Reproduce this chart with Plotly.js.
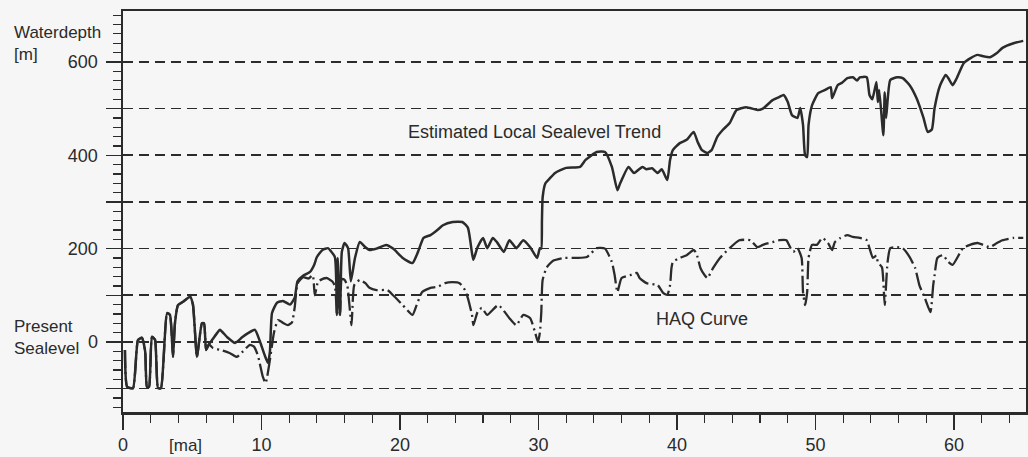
<!DOCTYPE html>
<html>
<head>
<meta charset="utf-8">
<script src="https://cdn.plot.ly/plotly-3.0.1.min.js"></script>
<style>
html,body{margin:0;padding:0;background:#f6f6f6;}
#chart{width:1028px;height:457px;}
</style>
</head>
<body>
<div id="chart"></div>
<script>
// Estimated Local Sealevel Trend (solid line): age [ma] and water depth [m]
const trendAge = [0.14,0.3,0.72,1.08,1.37,1.6,1.73,1.88,2.09,2.31,2.53,2.74,3.18,3.39,3.61,3.75,3.97,4.33,4.84,5.05,5.34,5.7,5.85,6.0,6.2,6.43,6.79,7.0,
  7.5,8.09,8.6,9.03,9.53,9.9,10.25,10.47,10.61,10.76,11.12,11.55,12.06,12.4,12.6,13.0,13.5,13.8,14.0,14.4,14.8,15.0,15.3,15.45,15.5,15.67,15.8,16.0,16.25,16.45,16.75,17.1,
  17.5,17.8,18.3,19.0,19.5,20.2,20.9,21.3,21.7,22.2,22.7,23.1,23.8,24.5,24.9,25.2,25.3,25.6,26.0,26.3,26.7,27.0,27.5,27.9,28.4,28.9,29.4,29.9,30.1,30.2,30.25,30.3,30.5,30.8,
  31.2,32.0,33.0,33.4,34.2,34.8,35.3,35.7,35.9,36.5,36.9,37.5,37.8,38.2,38.6,38.9,39.3,39.5,39.7,40.2,40.7,41.2,41.5,41.8,42.2,42.5,42.9,43.3,43.8,44.3,45.0,45.8,46.2,46.9,
  47.4,47.7,48.0,48.3,48.7,48.9,49.1,49.25,49.4,49.5,49.75,50.2,50.7,51.1,51.2,51.6,51.9,52.3,52.7,53.0,53.2,53.7,53.9,54.1,54.4,54.5,54.6,54.9,55.0,55.1,55.4,55.9,56.3,
  56.8,57.3,57.8,58.1,58.4,58.6,59.0,59.4,59.6,59.9,60.2,60.7,61.2,61.7,62.1,62.6,63.1,63.5,64.3,65.0];
const trendDepth = [-17,-96,-99,4,9,-20,-96,-96,11,5,-99,-99,62,58,-32,40,79,86,97,80,-32,40,40,-17,-5,4,19,26,
  11,-2,10,19,26,0,-30,-45,-20,62,84,88,80,95,130,142,150,165,182,197,201,195,182,58,180,58,193,212,201,130,180,214,
  203,197,200,208,200,180,169,193,223,229,240,250,257,257,245,190,176,203,223,201,223,214,193,218,201,218,203,180,201,200,260,310,340,350,
  362,373,375,390,407,407,375,325,340,375,362,375,370,372,362,370,347,390,411,426,433,450,428,411,405,411,439,454,469,497,503,497,500,518,
  525,529,514,486,480,501,465,400,396,465,507,533,540,546,522,550,555,565,567,560,567,567,529,520,557,514,540,443,535,480,561,567,565,
  550,522,480,450,455,501,550,572,565,550,565,597,608,615,612,610,619,630,640,645];

// HAQ Curve (dash-dot line): age [ma] and water depth [m]
const haqAge = [0.14,0.3,0.72,1.08,1.37,1.6,1.73,1.88,2.09,2.31,2.53,2.74,3.18,3.39,3.61,3.75,3.97,4.33,4.84,5.05,5.34,5.7,5.85,6.0,6.2,6.5,
  7.15,7.73,8.23,8.66,9.17,9.46,9.75,10.1,10.3,10.6,10.9,11.2,11.6,11.9,12.2,12.4,12.6,13.0,13.4,13.7,13.85,14.1,14.7,15.1,15.3,15.45,15.55,15.67,15.8,16.0,16.2,16.5,16.7,
  17.1,17.5,17.8,18.3,19.1,19.5,20.2,20.9,21.2,21.6,22.2,22.7,23.25,23.8,24.3,24.7,24.9,25.2,25.3,25.6,25.9,26.3,27.1,27.9,28.4,28.9,29.4,29.75,29.96,30.1,30.2,30.3,
  30.6,31.05,31.8,32.8,33.5,34.2,34.8,35.3,35.5,35.7,36.0,36.6,37.1,37.3,37.8,38.6,39.0,39.3,39.5,39.6,39.7,40.2,40.7,41.2,41.4,41.7,42.0,42.2,42.6,43.1,43.8,44.5,45.3,
  45.8,46.2,46.9,47.4,47.9,48.2,48.4,48.7,49.0,49.1,49.25,49.4,49.5,49.75,50.1,50.5,50.9,51.2,51.4,51.8,52.3,52.7,53.2,53.7,53.9,54.15,54.4,54.5,54.8,55.0,55.2,55.4,
  55.9,56.3,56.8,57.2,57.5,57.9,58.3,58.5,58.6,58.8,59.2,59.6,59.9,60.65,61.15,61.7,62.1,62.6,63.1,63.5,64.3,65.0];
const haqDepth = [-17,-96,-99,4,9,-20,-96,-96,11,5,-99,-99,62,58,-32,40,79,86,97,80,-32,40,40,-17,-5,-13,
  -18,-24,-32,-20,-6,-10,-30,-75,-88,-40,20,47,40,36,42,75,125,139,136,143,100,130,137,130,120,58,130,58,135,133,120,36,122,
  133,126,116,111,111,100,79,58,79,107,116,118,126,128,126,111,94,58,36,64,73,58,79,51,36,58,51,21,0,20,62,133,
  160,174,180,180,182,201,200,171,143,107,137,143,148,137,126,122,105,101,122,158,171,180,186,197,190,158,143,137,158,180,201,218,218,
  203,208,214,218,218,201,193,201,180,107,79,107,180,208,208,223,212,197,214,223,229,225,223,218,201,180,185,171,160,79,170,201,
  203,201,182,158,122,94,64,122,143,180,186,171,165,201,208,212,208,203,212,218,223,223];

// Axis ticks and labels
const xTickVals = [0,10,20,30,40,50,60];
const xTickText = ['0','10','20','30','40','50','60'];
const yTickVals = [-100,0,100,200,300,400,500,600];
const yTickText = ['','0','','200','','400','','600'];

const ink = '#2b2b2b';
const fontFam = 'Liberation Sans, Arial, Helvetica, sans-serif';

const traces = [
  {x: haqAge, y: haqDepth, mode: 'lines', name: 'HAQ Curve',
   line: {color: ink, width: 2.3, dash: '18px,4px,2px,4px', shape: 'spline', smoothing: 0.5}},
  {x: trendAge, y: trendDepth, mode: 'lines', name: 'Estimated Local Sealevel Trend',
   line: {color: ink, width: 2.5, shape: 'spline', smoothing: 0.5}}
];

const layout = {
  width: 1028, height: 457,
  margin: {l: 123, r: 2, t: 11, b: 45},
  paper_bgcolor: '#f6f6f6',
  plot_bgcolor: '#f6f6f6',
  showlegend: false,
  font: {family: fontFam, color: ink, size: 18},
  xaxis: {
    range: [0, 65.2], showgrid: false, zeroline: false,
    showline: true, linecolor: ink, linewidth: 2.5, mirror: true,
    tickmode: 'array', tickvals: xTickVals, ticktext: xTickText,
    ticks: 'outside', ticklen: 15, tickwidth: 1.5, tickcolor: ink,
    minor: {dtick: 2, tick0: 0, ticks: 'outside', ticklen: 8, tickwidth: 1.2, tickcolor: ink, showgrid: false},
    tickfont: {size: 18, family: fontFam, color: ink},
    ticklabelstandoff: 0
  },
  yaxis: {
    range: [-150, 709], zeroline: false,
    showline: true, linecolor: ink, linewidth: 2.5, mirror: true,
    tickmode: 'array', tickvals: yTickVals, ticktext: yTickText,
    ticks: 'outside', ticklen: 15, tickwidth: 1.5, tickcolor: ink,
    showgrid: true, gridcolor: ink, gridwidth: 1.6, griddash: '10px,6px',
    minor: {dtick: 20, tick0: 0, ticks: 'outside', ticklen: 8, tickwidth: 1.2, tickcolor: ink, showgrid: false},
    tickfont: {size: 18, family: fontFam, color: ink},
    ticklabelstandoff: 4
  },
  annotations: [
    {xref: 'x', yref: 'y', x: 29.7, y: 450, text: 'Estimated Local Sealevel Trend', showarrow: false,
     font: {size: 18, family: fontFam, color: ink}, xanchor: 'center', yanchor: 'middle'},
    {xref: 'x', yref: 'y', x: 41.8, y: 49, text: 'HAQ Curve', showarrow: false,
     font: {size: 18, family: fontFam, color: ink}, xanchor: 'center', yanchor: 'middle'},
    {xref: 'paper', yref: 'paper', x: -0.1229, y: 0.9476, text: 'Waterdepth', showarrow: false,
     font: {size: 17, family: fontFam, color: ink}, xanchor: 'left', yanchor: 'middle'},
    {xref: 'paper', yref: 'paper', x: -0.1229, y: 0.8903, text: '[m]', showarrow: false,
     font: {size: 17, family: fontFam, color: ink}, xanchor: 'left', yanchor: 'middle'},
    {xref: 'paper', yref: 'paper', x: -0.1229, y: 0.212, text: 'Present', showarrow: false,
     font: {size: 17, family: fontFam, color: ink}, xanchor: 'left', yanchor: 'middle'},
    {xref: 'paper', yref: 'paper', x: -0.1229, y: 0.1596, text: 'Sealevel', showarrow: false,
     font: {size: 17, family: fontFam, color: ink}, xanchor: 'left', yanchor: 'middle'},
    {xref: 'paper', yref: 'paper', x: 0.0687, y: -0.083, text: '[ma]', showarrow: false,
     font: {size: 17, family: fontFam, color: ink}, xanchor: 'center', yanchor: 'middle'}
  ]
};

Plotly.newPlot('chart', traces, layout, {staticPlot: true, displayModeBar: false});
</script>
</body>
</html>
